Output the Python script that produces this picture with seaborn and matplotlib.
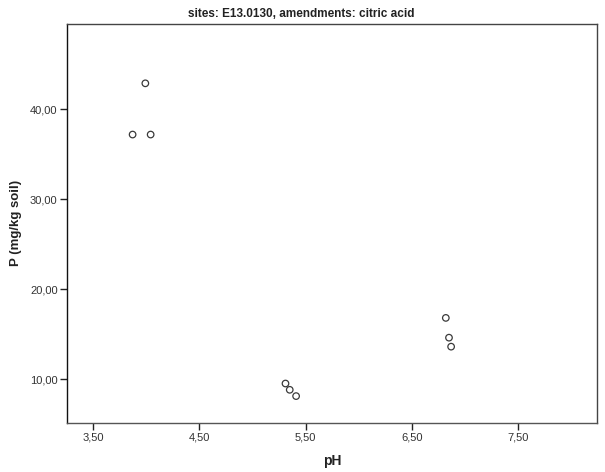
import matplotlib
matplotlib.use("Agg")
import matplotlib.pyplot as plt
import seaborn as sns
import pandas as pd
from matplotlib.ticker import FuncFormatter, FixedLocator

# data
ph = [3.87, 3.99, 4.04, 5.31, 5.35, 5.41, 6.82, 6.85, 6.87]
p_soil = [37.2, 42.9, 37.2, 9.5, 8.8, 8.1, 16.8, 14.6, 13.6]
x_ticks = [3.5, 4.5, 5.5, 6.5, 7.5]
y_ticks = [10, 20, 30, 40]
title = "sites: E13.0130, amendments: citric acid"

df = pd.DataFrame({"pH": ph, "P": p_soil})

sns.set_theme(style="white")
plt.rcParams["font.family"] = ["Liberation Sans", "DejaVu Sans"]

fig = plt.figure(figsize=(6.05, 4.72), dpi=100)
ax = fig.add_axes([67.3 / 605, 1 - 422.7 / 472, (597 - 67.3) / 605, (422.7 - 24) / 472])

sns.scatterplot(data=df, x="pH", y="P", ax=ax, marker="o", s=22,
                facecolor="none", edgecolor="#3a3a3a", linewidth=0.9)

ax.set_xlim(3.255, 8.244)
ax.set_ylim(5.14, 49.5)
ax.xaxis.set_major_locator(FixedLocator(x_ticks))
ax.yaxis.set_major_locator(FixedLocator(y_ticks))
fmt = FuncFormatter(lambda v, pos: f"{v:.2f}".replace(".", ","))
ax.xaxis.set_major_formatter(fmt)
ax.yaxis.set_major_formatter(fmt)

for s in ax.spines.values():
    s.set_visible(True)
    s.set_color("#444444")
    s.set_linewidth(1.0)
ax.spines["left"].set_color("#111111")
ax.spines["bottom"].set_color("#555555")

ax.tick_params(axis="both", which="major", direction="out", length=5, width=1.0,
               color="#222222", labelsize=8, labelcolor="#333333", pad=2,
               bottom=True, left=True, top=False, right=False)

ax.set_xlabel("pH", fontsize=10, fontweight="bold", color="#222222")
ax.set_ylabel("P (mg/kg soil)", fontsize=9.5, fontweight="bold", color="#222222")
ax.xaxis.set_label_coords(0.5, (422.7 - 454) / 398.7)
ax.yaxis.set_label_coords((22 - 67.3) / 529.7, 0.5)

fig.text(301 / 605, 1 - 14 / 472, title, ha="center", va="center",
         fontsize=8.5, fontweight="bold", color="#222222",
         family=["Liberation Sans Narrow", "Liberation Sans", "DejaVu Sans"])

fig.savefig("out.png", dpi=100)
